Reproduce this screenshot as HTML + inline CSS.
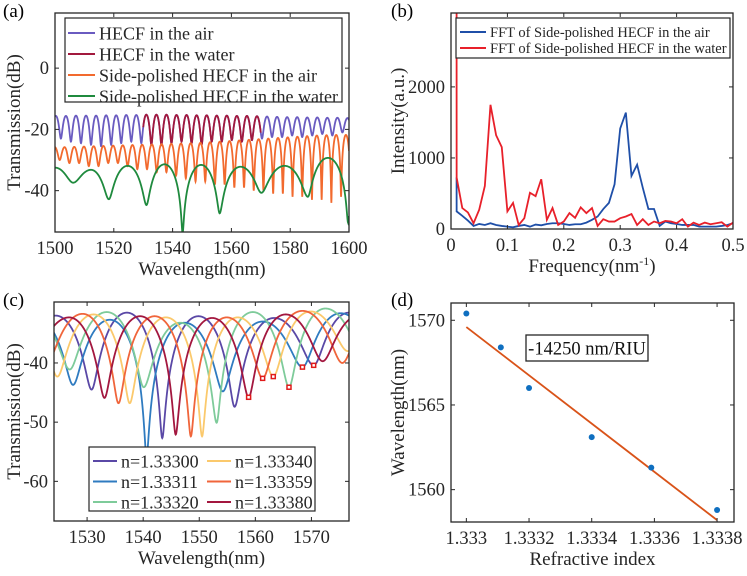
<!DOCTYPE html>
<html><head><meta charset="utf-8"><style>
html,body{margin:0;padding:0;background:#fff;}
svg{display:block;font-family:"Liberation Serif",serif;}
</style></head><body>
<svg id="fig" width="747" height="576" viewBox="0 0 747 576" xmlns="http://www.w3.org/2000/svg">
<defs>
<clipPath id="clipA"><rect x="55" y="13" width="294" height="219"/></clipPath>
<clipPath id="clipB"><rect x="451" y="13" width="282" height="216"/></clipPath>
<clipPath id="clipC"><rect x="54" y="302" width="295" height="219"/></clipPath>
<clipPath id="clipD"><rect x="451" y="303" width="283" height="219"/></clipPath>
</defs>
<text x="3" y="17" font-size="19">(a)</text>
<text x="391" y="17" font-size="19">(b)</text>
<text x="3" y="306" font-size="19">(c)</text>
<text x="391" y="306" font-size="19">(d)</text>
</svg>
<script>
// ---------- Panel (a) data ----------
const aHecfStart = 1502.0;
const aHecfPeriod = 3.42;
const aHecfDips = [-23,-24,-24.5,-25,-25.5,-25,-24.5,-24,-24.5,-25,-25,-24.5,-24,-24.5,-25,-24,-24,-23.5,-24,-23.5,-23,-22.5,-22.5,-22,-22.5,-22,-21.5,-22,-21,-21];
const aHecfPeaks = [-15.6,-15.5,-15.5,-15.5,-15.4,-15.4,-15.3,-15.3,-15.2,-15.2,-15.2,-15.3,-15.3,-15.4,-15.4,-15.5,-15.5,-15.6,-15.6,-15.7,-15.8,-15.9,-16,-16,-16.1,-16.1,-16.2,-16.2,-16.3,-16.3];
const aSideStart = 1501.6;
const aSidePeriod = 3.3;
const aSideDips = [-30,-31,-31,-32,-32,-31,-31,-32,-33,-33,-34,-34,-35,-36,-37,-37,-38,-38,-39,-39,-40,-40,-41,-41,-42,-42,-43,-43,-44,-42,-42];
const aSidePeaks = [-25.8,-25.7,-25.6,-25.5,-25.4,-25.3,-25.2,-25.1,-25,-24.9,-24.8,-24.7,-24.6,-24.5,-24.4,-24.2,-24,-23.8,-23.6,-23.4,-23.2,-23,-22.8,-22.6,-22.4,-22.2,-22,-21.9,-21.8,-21.8,-21.8];
const aWaterDipX = [1494,1506.2,1518.3,1531.1,1543.4,1556,1570.2,1586,1599.7,1612];
const aWaterDipY = [-35,-37.4,-42.8,-44.7,-54,-47.4,-40.7,-42,-50.5,-40];
const aWaterPeaks = [-32.5,-33.2,-31.9,-31.4,-31.6,-32.2,-31.9,-29.3,-30];
const aXTicks = [1500,1520,1540,1560,1580,1600];
const aYTicks = [-40,-20,0];

// ---------- Panel (b) data ----------
const bRedFreq = [0.0099,0.01,0.02,0.03,0.04,0.05,0.06,0.07,0.08,0.09,0.10,0.11,0.12,0.13,0.14,0.15,0.16,0.17,0.18,0.19,0.20,0.21,0.22,0.23,0.24,0.25,0.26,0.27,0.28,0.29,0.30,0.31,0.32,0.33,0.34,0.35,0.36,0.37,0.38,0.39,0.40,0.41,0.42,0.43,0.44,0.45,0.46,0.47,0.48,0.49,0.50];
const bRedVals = [3600,724,295,233,81,271,605,1748,1319,1152,248,367,57,152,510,462,700,129,295,57,105,224,157,305,224,295,43,138,105,105,152,176,210,57,138,57,105,81,114,105,81,138,33,90,57,90,67,81,95,33,90];
const bBlueFreq = [0.0099,0.01,0.02,0.03,0.04,0.05,0.06,0.07,0.08,0.09,0.10,0.11,0.12,0.13,0.14,0.15,0.16,0.17,0.18,0.19,0.20,0.21,0.22,0.23,0.24,0.25,0.26,0.27,0.28,0.29,0.30,0.31,0.32,0.33,0.34,0.35,0.36,0.37,0.38,0.39,0.40,0.41,0.42,0.43,0.44,0.45,0.46,0.47,0.48,0.49,0.50];
const bBlueVals = [724,248,186,119,43,71,57,81,57,43,33,24,43,57,33,62,52,71,81,81,71,57,67,67,90,129,176,281,367,629,1414,1638,748,905,581,281,281,43,105,81,71,57,57,57,33,33,33,33,43,57,81];
const bXTicks = [0,0.1,0.2,0.3,0.4,0.5];
const bYTicks = [0,1000,2000];

// ---------- Panel (c) data ----------
const cLabels = ["n=1.33300","n=1.33311","n=1.33320","n=1.33340","n=1.33359","n=1.33380"];
const cDipX = [
 [1518.0,1530.8,1543.4,1556.3,1570.4,1583],
 [1514.5,1527.5,1540.6,1554.2,1568.4,1582],
 [1513.5,1526.9,1540.1,1553.1,1566.0,1579],
 [1511.8,1524.7,1537.6,1550.5,1563.2,1576.5],
 [1510,1522.8,1535.6,1548.5,1561.3,1575.5],
 [1520.5,1533.1,1545.8,1558.8,1572.0,1585]];
const cDipY = [
 [-40,-44.5,-52.7,-47.4,-40.4,-38],
 [-40,-43.7,-56,-44.8,-40.7,-38],
 [-38,-41.1,-44.1,-50.1,-44.1,-38],
 [-38,-42.3,-46.8,-52.4,-42.3,-38],
 [-38,-40,-46.8,-52.4,-42.6,-40],
 [-38,-45.9,-52.1,-45.8,-39.7,-38]];
const cPeaks = [
 [-32,-31.5,-32.1,-32.4,-31.5],
 [-32.5,-32.7,-33.2,-33,-31.6],
 [-32,-31.4,-33.2,-31.4,-30.8],
 [-32,-31.8,-32.3,-32.3,-31.3],
 [-32,-31.7,-32.1,-32.3,-31.2],
 [-32.3,-32.1,-32.4,-31.8,-32]];
const cMarkX = [1570.4,1568.4,1566.0,1563.2,1561.3,1558.8];
const cMarkY = [-40.4,-40.7,-44.1,-42.3,-42.6,-45.8];
const cXTicks = [1530,1540,1550,1560,1570];
const cYTicks = [-60,-50,-40];

// ---------- Panel (d) data ----------
const dIndex = [1.33300,1.33311,1.33320,1.33340,1.33359,1.33380];
const dWave = [1570.4,1568.4,1566.0,1563.1,1561.3,1558.8];
const dFitX = [1.33300,1.33380];
const dFitY = [1569.6,1558.2];
const dXTicks = [1.333,1.3332,1.3334,1.3336,1.3338];
const dXTickLabels = ["1.333","1.3332","1.3334","1.3336","1.3338"];
const dYTicks = [1560,1565,1570];

// ---------- helpers ----------
const NS = "http://www.w3.org/2000/svg";
const svg = document.getElementById("fig");
const TICK_FS = 18.5, TITLE_FS = 19;
function mk(tag, attrs, parent) {
  const e = document.createElementNS(NS, tag);
  for (const k in attrs) e.setAttribute(k, attrs[k]);
  (parent || svg).appendChild(e);
  return e;
}
function scale(d0, d1, r0, r1) { return v => r0 + (v - d0) / (d1 - d0) * (r1 - r0); }
function dipValue(lam, xs, ys, ps) {
  let i = 0;
  while (i < xs.length - 2 && lam > xs[i + 1]) i++;
  const t = (lam - xs[i]) / (xs[i + 1] - xs[i]);
  const d = t < 0.5 ? ys[i] : ys[i + 1];
  const p = ps[Math.min(i, ps.length - 1)];
  const D = Math.max(p - d, 0.01);
  const eps = Math.pow(10, -D / 10);
  const s = Math.sin(Math.PI * t);
  return p + 10 * Math.log10(eps + (1 - eps) * s * s);
}
function periodicPositions(start, period, n) {
  const out = [start - period];
  for (let i = 0; i < n; i++) out.push(start + i * period);
  return out;
}
function curvePath(sx, sy, xa, xb, f, step) {
  let d = "";
  for (let x = xa; x <= xb + 1e-9; x += step) {
    d += (d ? "L" : "M") + sx(x).toFixed(2) + "," + sy(f(x)).toFixed(2);
  }
  return d;
}
function frame(ax, name) {
  const g = mk("g", {});
  
  
  const r = mk("rect", {x: ax.x0, y: ax.y0, width: ax.x1 - ax.x0, height: ax.y1 - ax.y0, fill: "none", stroke: "#262626", "stroke-width": 1.3}, g);
  
  
  ax.xticks.forEach((v, i) => {
    const x = ax.sx(v);
    mk("line", {x1: x, x2: x, y1: ax.y1, y2: ax.y1 - 4, stroke: "#262626", "stroke-width": 1}, g);
    mk("line", {x1: x, x2: x, y1: ax.y0, y2: ax.y0 + 4, stroke: "#262626", "stroke-width": 1}, g);
    const t = mk("text", {x: x, y: ax.y1 + 22, "font-size": TICK_FS, "text-anchor": "middle", fill: "#262626"}, g);
    t.textContent = ax.xlabels ? ax.xlabels[i] : String(v);
    
    
  });
  ax.yticks.forEach(v => {
    const y = ax.sy(v);
    mk("line", {x1: ax.x0, x2: ax.x0 + 4, y1: y, y2: y, stroke: "#262626", "stroke-width": 1}, g);
    mk("line", {x1: ax.x1, x2: ax.x1 - 4, y1: y, y2: y, stroke: "#262626", "stroke-width": 1}, g);
    const t = mk("text", {x: ax.x0 - 6, y: y + 6, "font-size": TICK_FS, "text-anchor": "end", fill: "#262626"}, g);
    t.textContent = String(v);
    
    
  });
  const xt = mk("text", {x: (ax.x0 + ax.x1) / 2, y: ax.y1 + 43, "font-size": TITLE_FS, "text-anchor": "middle", fill: "#262626"}, g);
  xt.innerHTML = ax.xtitle;
  
  
  const cy = (ax.y0 + ax.y1) / 2;
  const yt = mk("text", {x: ax.ytx, y: cy, "font-size": TITLE_FS, "text-anchor": "middle", fill: "#262626", transform: "rotate(-90 " + ax.ytx + " " + cy + ")"}, g);
  yt.textContent = ax.ytitle;
  
  
}
function legendBox(x, y, w, h, name) {
  const r = mk("rect", {x: x, y: y, width: w, height: h, fill: "#fff", stroke: "#262626", "stroke-width": 1.2});
  
  
}
function legendEntry(x, y, len, color, label, fs, name) {
  const l = mk("line", {x1: x, x2: x + len, y1: y, y2: y, stroke: color, "stroke-width": 2});
  
  
  const t = mk("text", {x: x + len + 4, y: y + fs * 0.35, "font-size": fs, fill: "#262626"});
  t.textContent = label;
  
  
}

// ---------- Panel (a) ----------
const A = {x0: 55, x1: 349, y0: 13, y1: 232};
A.sx = scale(1500, 1600, A.x0, A.x1);
A.sy = scale(18, -53.5, A.y0, A.y1);
A.xticks = aXTicks; A.yticks = aYTicks;
A.xtitle = "Wavelength(nm)"; A.ytitle = "Transmission(dB)"; A.ytx = 20;
{
  const g = mk("g", {"clip-path": "url(#clipA)"});
  
  
  const hx = periodicPositions(aHecfStart, aHecfPeriod, aHecfDips.length);
  const hy = [aHecfDips[0]].concat(aHecfDips);
  const hp = [aHecfPeaks[0]].concat(aHecfPeaks);
  const fH = x => dipValue(x, hx, hy, hp);
  const sxA = periodicPositions(aSideStart, aSidePeriod, aSideDips.length);
  const syA = [aSideDips[0]].concat(aSideDips);
  const spA = [aSidePeaks[0]].concat(aSidePeaks);
  const fS = x => dipValue(x, sxA, syA, spA);
  const fW = x => dipValue(x, aWaterDipX, aWaterDipY, aWaterPeaks);
  let p;
  p = mk("path", {d: curvePath(A.sx, A.sy, 1500, 1600, fH, 0.05), fill: "none", stroke: "#6a5bc0", "stroke-width": 1.8}, g);
  
  
  p = mk("path", {d: curvePath(A.sx, A.sy, 1530, 1570, fH, 0.05), fill: "none", stroke: "#a2193d", "stroke-width": 1.8}, g);
  
  
  p = mk("path", {d: curvePath(A.sx, A.sy, 1500, 1600, fS, 0.05), fill: "none", stroke: "#f26a2e", "stroke-width": 1.8}, g);
  
  
  p = mk("path", {d: curvePath(A.sx, A.sy, 1500, 1600, fW, 0.1), fill: "none", stroke: "#1f8a3e", "stroke-width": 1.8}, g);
  
  
}
frame(A, "panel-a");
legendBox(65, 18, 277, 84, "panel-a-legend");
legendEntry(68, 33, 27, "#6a5bc0", "HECF in the air", 18, "legend-hecf-air");
legendEntry(68, 54, 27, "#a2193d", "HECF in the water", 18, "legend-hecf-water");
legendEntry(68, 75, 27, "#f26a2e", "Side-polished HECF in the air", 18, "legend-side-air");
legendEntry(68, 96, 27, "#1f8a3e", "Side-polished HECF in the water", 18, "legend-side-water");

// ---------- Panel (b) ----------
const B = {x0: 451, x1: 733, y0: 13, y1: 229};
B.sx = scale(0, 0.5, B.x0, B.x1);
B.sy = scale(0, 3040, B.y1, B.y0);
B.xticks = bXTicks; B.yticks = bYTicks;
B.xtitle = 'Frequency(nm<tspan dy="-7" font-size="12">-1</tspan><tspan dy="7">)</tspan>'; B.ytitle = "Intensity(a.u.)"; B.ytx = 404;
{
  const g = mk("g", {"clip-path": "url(#clipB)"});
  
  
  const pts = (fx, fy) => fx.map((f, i) => B.sx(f).toFixed(2) + "," + B.sy(fy[i]).toFixed(2)).join(" ");
  let p = mk("polyline", {points: pts(bBlueFreq, bBlueVals), fill: "none", stroke: "#1f4fa8", "stroke-width": 1.8}, g);
  
  
  p = mk("polyline", {points: pts(bRedFreq, bRedVals), fill: "none", stroke: "#e8202a", "stroke-width": 1.8}, g);
  
  
}
frame(B, "panel-b");
legendBox(456, 18, 274, 40, "panel-b-legend");
legendEntry(460, 32, 26, "#1f4fa8", "FFT of Side-polished HECF in the air", 14.5, "legend-fft-air");
legendEntry(460, 48, 26, "#e8202a", "FFT of Side-polished HECF in the water", 14.5, "legend-fft-water");

// ---------- Panel (c) ----------
const C = {x0: 54, x1: 349, y0: 302, y1: 521};
C.sx = scale(1524.1, 1576.7, C.x0, C.x1);
C.sy = scale(-29.7, -66.7, C.y0, C.y1);
C.xticks = cXTicks; C.yticks = cYTicks;
C.xtitle = "Wavelength(nm)"; C.ytitle = "Transmission(dB)"; C.ytx = 20;
const cColors = ["#5a48a6", "#2f7bc0", "#7ecb9a", "#fbc96c", "#f0653b", "#a3173f"];
{
  const g = mk("g", {"clip-path": "url(#clipC)"});
  
  
  cLabels.forEach((lab, k) => {
    const f = x => dipValue(x, cDipX[k], cDipY[k], cPeaks[k]);
    const p = mk("path", {d: curvePath(C.sx, C.sy, 1524, 1577, f, 0.05), fill: "none", stroke: cColors[k], "stroke-width": 1.8}, g);
    
    
  });
  cMarkX.forEach((v, i) => {
    const m = mk("rect", {x: C.sx(v) - 2, y: C.sy(cMarkY[i]) - 2, width: 4, height: 4, fill: "#fff", stroke: "#e01a1a", "stroke-width": 1.5}, g);
    
    
  });
}
frame(C, "panel-c");
legendBox(89, 447, 226, 64, "panel-c-legend");
cLabels.forEach((lab, k) => {
  const col = k < 3 ? 0 : 1;
  const row = k % 3;
  legendEntry(col ? 207 : 93, 461 + row * 20.5, 24, cColors[k], lab, 18, 'legend-entry-' + k);
});

// ---------- Panel (d) ----------
const Dd = {x0: 451, x1: 734, y0: 303, y1: 522};
Dd.sx = scale(1.332951, 1.333854, Dd.x0, Dd.x1);
Dd.sy = scale(1571.02, 1558.09, Dd.y0, Dd.y1);
Dd.xticks = dXTicks; Dd.xlabels = dXTickLabels; Dd.yticks = dYTicks;
Dd.xtitle = "Refractive index"; Dd.ytitle = "Wavelength(nm)"; Dd.ytx = 404;
{
  const g = mk("g", {"clip-path": "url(#clipD)"});
  
  
  const l = mk("line", {x1: Dd.sx(dFitX[0]), y1: Dd.sy(dFitY[0]), x2: Dd.sx(dFitX[1]), y2: Dd.sy(dFitY[1]), stroke: "#d95319", "stroke-width": 1.8}, g);
  
  
  dIndex.forEach((v, i) => {
    const c = mk("circle", {cx: Dd.sx(v), cy: Dd.sy(dWave[i]), r: 3, fill: "#0f6fc0"}, g);
    
    
  });
}
frame(Dd, "panel-d");
{
  const r = mk("rect", {x: 526, y: 335, width: 122, height: 26, fill: "#fff", stroke: "#262626", "stroke-width": 1.3});
  
  
  const t = mk("text", {x: 587, y: 354.5, "font-size": 18.5, "text-anchor": "middle", fill: "#111"});
  t.textContent = "-14250 nm/RIU";
  
  
}
</script>
</body></html>
